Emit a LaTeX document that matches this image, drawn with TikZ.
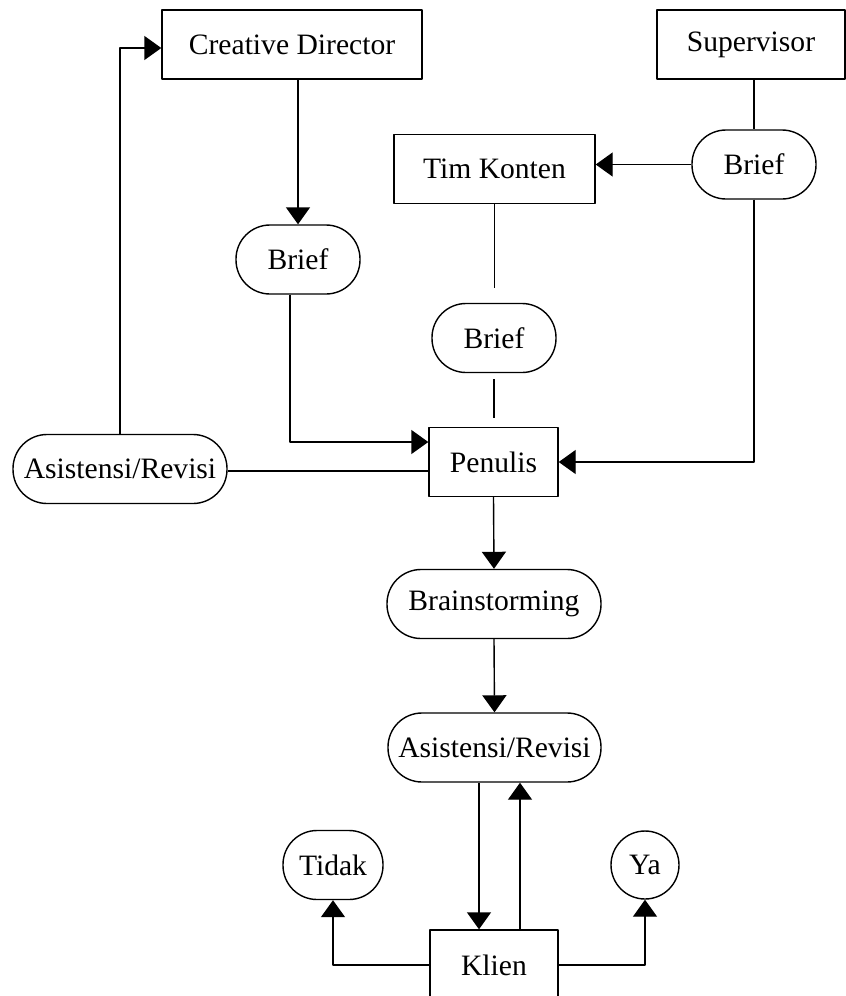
\documentclass[tikz,border=0pt]{standalone}
\usepackage{fontspec}
\setmainfont{Liberation Serif}
\usetikzlibrary{arrows.meta}
\begin{document}
\begin{tikzpicture}[x=0.5pt,y=-0.5pt,line width=0.7pt,join=round]
    \tikzstyle{kotak} = [draw,rectangle,minimum height=34.5pt,inner sep=0pt,
                         font=\fontsize{14.8pt}{17pt}\selectfont]
    \tikzstyle{pil} = [kotak,rounded corners=17pt]
    \tikzstyle{arr} = [-{Triangle[length=8.5pt,width=12pt]}]

    \clip (0,0) rectangle (846,996);

    % kotak dan pil
    \node[kotak,minimum width=130pt] (cd) at (292,44.5) {Creative Director};
    \node[kotak,minimum width=94pt] (sup) at (751,44.5) {Supervisor};
    \node[kotak,minimum width=100.5pt] (tim) at (494.5,169) {Tim Konten};
    \node[pil,minimum width=62pt] (briefS) at (754,164.5) {Brief};
    \node[pil,minimum width=62pt] (briefC) at (298,259.5) {Brief};
    \node[pil,minimum width=62pt] (briefT) at (494,338) {Brief};
    \node[kotak,minimum width=64.5pt] (pen) at (493.5,462) {Penulis};
    \node[pil,minimum width=107pt] (asl) at (120,469) {Asistensi/Revisi};
    \node[pil,minimum width=107pt] (brain) at (494,604) {Brainstorming};
    \node[pil,minimum width=106.5pt] (asb) at (494.5,747.5) {Asistensi/Revisi};
    \node[pil,minimum width=50pt] (tidak) at (333,865) {Tidak};
    \node[kotak,circle,minimum size=34pt] (ya) at (645,865) {Ya};
    \node[kotak,minimum width=64pt,minimum height=35pt] (klien) at (494,965) {Klien};

    % alur atas
    \draw[arr] (cd.south -| briefC.north) -- (briefC.north);
    \draw (sup.south -| briefS.north) -- (briefS.north);
    \draw[arr] (briefS.west) -- (briefS.west -| tim.east);
    \draw[shorten >=7.5pt] (tim.south) -- (tim.south |- briefT.north);
    \draw[shorten <=3pt,shorten >=4.5pt] (briefT.south) -- (briefT.south |- pen.north);
    \draw[arr] ([xshift=-4pt]briefC.south) |- ([yshift=10pt]pen.west);
    \draw[arr] (briefS.south) |- (pen.east);
    \draw ([yshift=-1pt]asl.east) -- ([yshift=-1pt]asl.east -| pen.west);
    \draw[arr] (asl.north) |- ([yshift=-1.75pt]cd.west);

    % alur bawah
    \draw[arr] (pen.south) -- (brain.north);
    \draw[arr] (brain.south) -- (asb.north);
    \draw[arr] ([xshift=-7.75pt]asb.south) -- ([xshift=-7.75pt]asb.south |- klien.north);
    \draw[arr] ([xshift=13pt]klien.north) -- ([xshift=13pt]klien.north |- asb.south);
    \draw[arr] (klien.west) -| (tidak.south);
    \draw[arr] (klien.east) -| (ya.south);
\end{tikzpicture}
\end{document}
